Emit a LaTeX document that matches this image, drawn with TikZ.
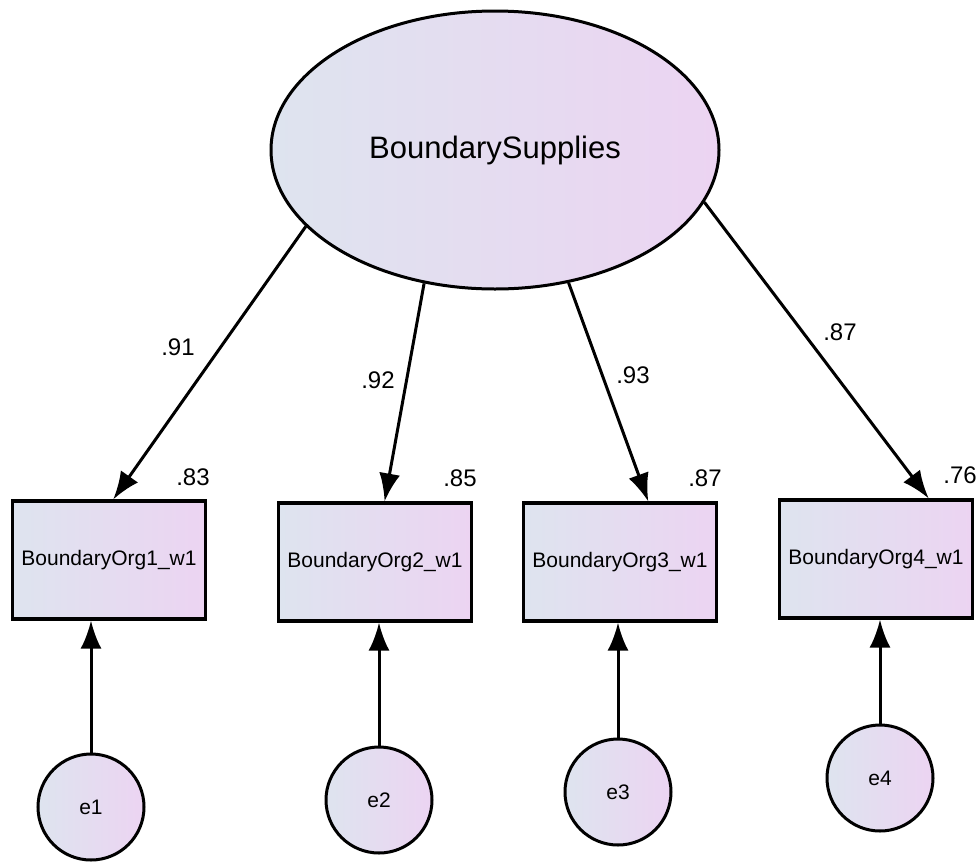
\documentclass[tikz,border=0pt]{standalone}
\usepackage{fontspec}
\setmainfont{Liberation Sans}
\usetikzlibrary{shapes.geometric}
\usetikzlibrary{arrows.meta}
\usetikzlibrary{positioning}
\usetikzlibrary{calc}
\definecolor{amosleft}{RGB}{222,228,239}
\definecolor{amosright}{RGB}{236,212,242}
\tikzset{
  latent/.style={ellipse, draw, line width=3pt, left color=amosleft, right color=amosright,
    minimum width=448pt, minimum height=278pt, inner sep=0pt, font=\fontsize{31}{36}\selectfont},
  observed/.style={rectangle, draw, line width=3.2pt, left color=amosleft, right color=amosright,
    minimum width=193pt, minimum height=118pt, inner sep=0pt, font=\fontsize{21}{25}\selectfont},
  errvar/.style={circle, draw, line width=3pt, left color=amosleft, right color=amosright,
    minimum size=106pt, inner sep=0pt, font=\fontsize{21}{25}\selectfont},
  coef/.style={font=\fontsize{24}{28}\selectfont},
  regline/.style={-{Latex[length=28pt,width=21pt]}, line width=3pt}
}

\begin{document}
\begin{tikzpicture}[x=1pt, y=-1pt]
\useasboundingbox (0,0) rectangle (980,863);

% latent variable
\node[latent] (BS) at (495,150) {BoundarySupplies};

%%%Indicators
\node[observed] (b1) at (109,560) {BoundaryOrg1\_w1};
\node[observed] (b2) at (375,562) {BoundaryOrg2\_w1};
\node[observed] (b3) at (620,562) {BoundaryOrg3\_w1};
\node[observed] (b4) at (876,559) {BoundaryOrg4\_w1};

%%%Errors
\node[errvar] (e1) at (91,807) {e1};
\node[errvar] (e2) at (379,800) {e2};
\node[errvar] (e3) at (618,792) {e3};
\node[errvar] (e4) at (880,778) {e4};

% loadings
\draw[regline] (BS.202) -- (b1.86);
\draw[regline] (BS.242) -- (b2.81);
\draw[regline] (BS.299) -- (b3.65);
\draw[regline] (BS.346) -- (b4.49);

\node[coef] (l1) at (178,347) {.91};
\node[coef] (l2) at (378,380) {.92};
\node[coef] (l3) at (633,375) {.93};
\node[coef] (l4) at (840,332) {.87};

% squared multiple correlations
\node[coef] (r1) at (193,477) {.83};
\node[coef] (r2) at (460,478) {.85};
\node[coef] (r3) at (705,478) {.87};
\node[coef] (r4) at (960,475) {.76};

% error paths
\draw[regline] (e1.north) -- (e1.north |- b1.south);
\draw[regline] (e2.north) -- (e2.north |- b2.south);
\draw[regline] (e3.north) -- (e3.north |- b3.south);
\draw[regline] (e4.north) -- (e4.north |- b4.south);

\end{tikzpicture}
\end{document}
